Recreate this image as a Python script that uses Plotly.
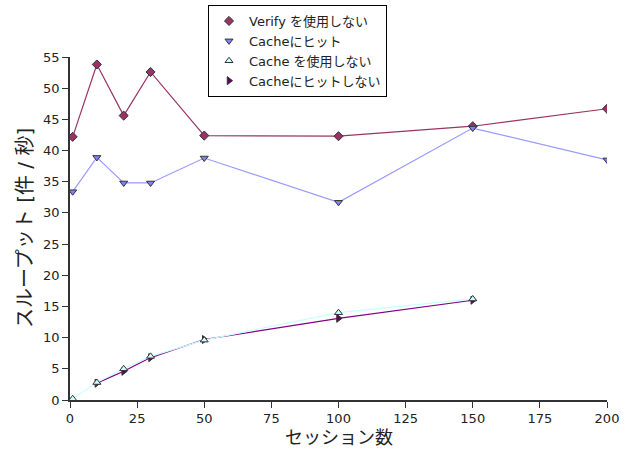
import plotly.graph_objects as go

sessions = [1, 10, 20, 30, 50, 100, 150, 200]
verify_off = [42.2, 53.8, 45.6, 52.6, 42.4, 42.3, 43.9, 46.7]
cache_hit = [33.4, 38.9, 34.8, 34.8, 38.8, 31.7, 43.6, 38.5]
sessions_nocache = [1, 10, 20, 30, 50, 100, 150]
cache_off = [0.2, 2.8, 5.0, 7.0, 9.6, 14.0, 16.2]
sessions_miss = [10, 20, 30, 50, 100, 150]
cache_miss = [2.7, 4.6, 6.8, 9.7, 13.1, 16.0]

names = ["Verify を使用しない", "Cacheにヒット", "Cache を使用しない", "Cacheにヒットしない"]
x_title = "セッション数"
y_title = "スループット [件 / 秒]"

JP = "DejaVu Sans, Noto Sans CJK JP, sans-serif"

styles = [
    dict(line="#993366", symbol="diamond", fill="#993366"),
    dict(line="#9999ff", symbol="triangle-down", fill="#8080ff"),
    dict(line="#ccffff", symbol="triangle-up", fill="#ccffff"),
    dict(line="#800080", symbol="triangle-right", fill="#660066"),
]
series = [
    (sessions, verify_off),
    (sessions, cache_hit),
    (sessions_nocache, cache_off),
    (sessions_miss, cache_miss),
]

fig = go.Figure()
# draw order: verify, hit, miss, nocache (cyan on top)
for i in [0, 1, 3, 2]:
    xs, ys = series[i]
    st = styles[i]
    fig.add_trace(go.Scatter(
        x=xs, y=ys, name=names[i], mode="lines+markers", showlegend=False,
        line=dict(color=st["line"], width=1.2),
        marker=dict(symbol=st["symbol"], size=7, color=st["fill"],
                    line=dict(color="#333333", width=1))))

# legend entries (markers only, like the reference)
for i in range(4):
    st = styles[i]
    fig.add_trace(go.Scatter(
        x=[None], y=[None], name=names[i], mode="markers", showlegend=True,
        legendrank=i + 1,
        marker=dict(symbol=st["symbol"], size=7, color=st["fill"],
                    line=dict(color="#333333", width=1))))

fig.update_layout(
    width=625, height=456,
    margin=dict(l=70, r=18, t=57, b=56, autoexpand=False),
    paper_bgcolor="white", plot_bgcolor="white",
    font=dict(family=JP, size=13, color="#222222"),
    showlegend=True,
    legend=dict(
        xref="container", yref="container",
        x=208 / 625, y=1 - 5 / 456, xanchor="left", yanchor="top",
        bordercolor="black", borderwidth=1, bgcolor="white",
        font=dict(family=JP, size=13),
        tracegroupgap=0, itemwidth=30,
        traceorder="normal",
    ),
    xaxis=dict(
        range=[0, 200], tickvals=[0, 25, 50, 75, 100, 125, 150, 175, 200],
        showgrid=False, zeroline=False, showline=True, linecolor="#333333", linewidth=1.5,
        ticks="outside", ticklen=6, tickcolor="#333333",
        tickfont=dict(size=13),
    ),
    yaxis=dict(
        range=[0, 55], tickvals=list(range(0, 56, 5)),
        showgrid=False, zeroline=False, showline=True, linecolor="#333333", linewidth=1.5,
        ticks="outside", ticklen=6, tickcolor="#333333",
        tickfont=dict(size=13),
    ),
    annotations=[
        dict(text=x_title, xref="paper", yref="paper", x=0.5, y=-37 / 343,
             xanchor="center", yanchor="middle", showarrow=False,
             font=dict(family=JP, size=18)),
        dict(text=y_title, xref="paper", yref="paper", x=-45 / 537, y=172 / 343,
             xanchor="center", yanchor="middle", showarrow=False, textangle=-90,
             font=dict(family=JP, size=20)),
    ],
)

fig.write_html("out.html")
